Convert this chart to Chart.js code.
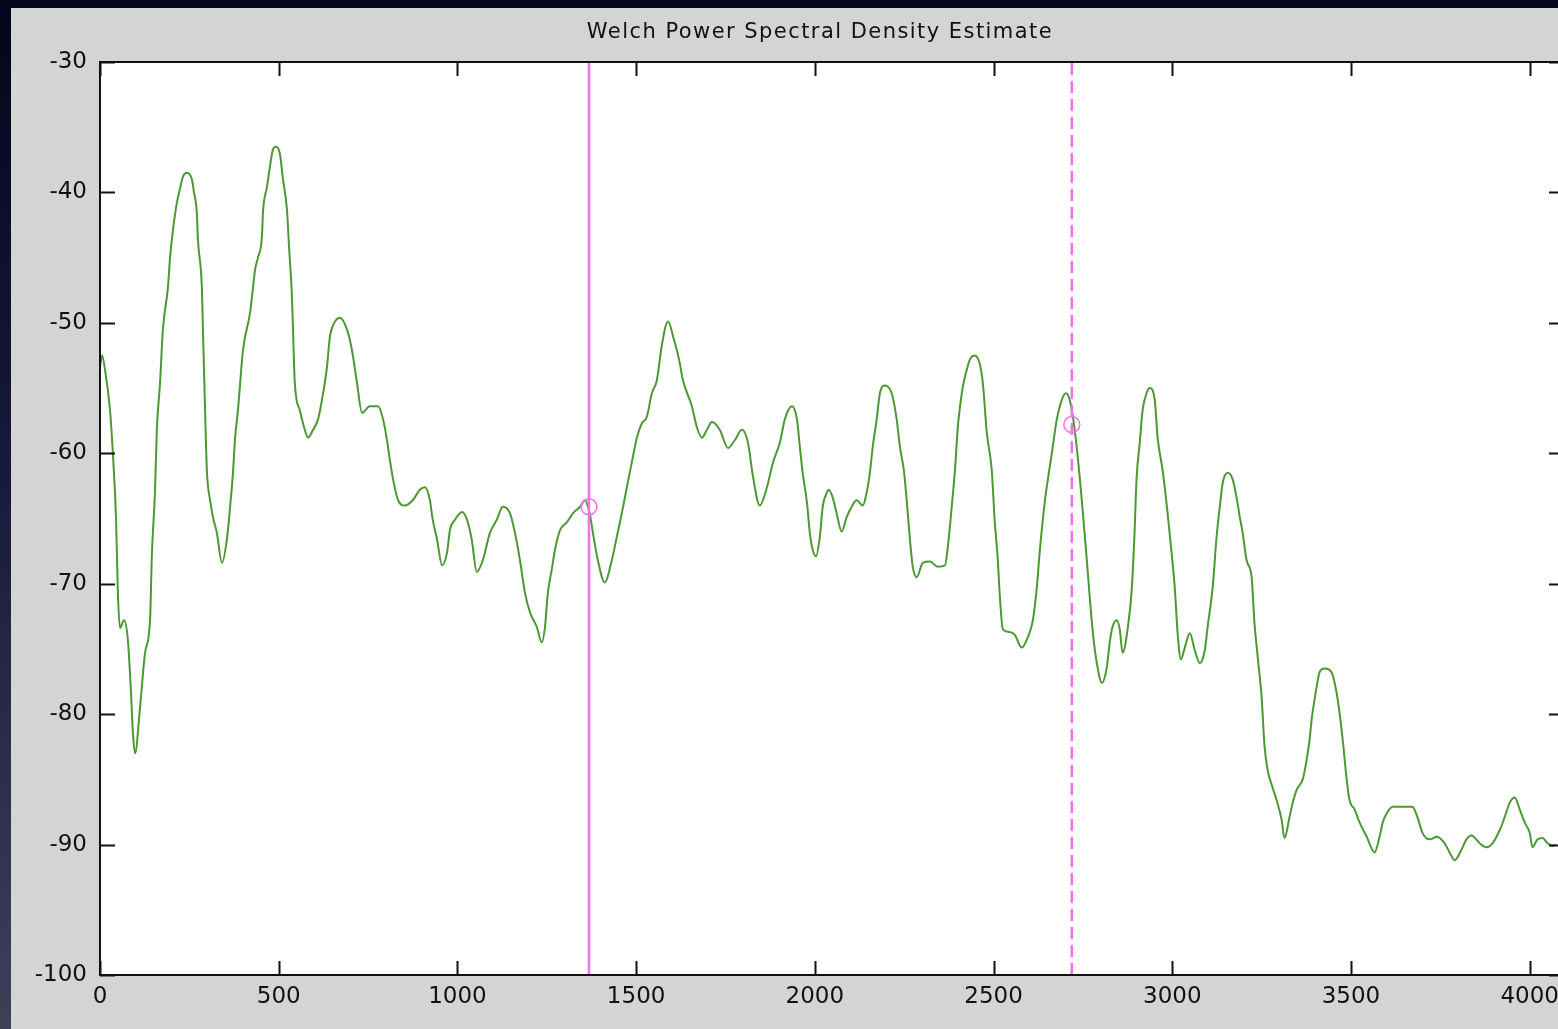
<!DOCTYPE html>
<html>
<head>
<meta charset="utf-8">
<title>Welch Power Spectral Density Estimate</title>
<script src="https://cdn.jsdelivr.net/npm/chart.js@4/dist/chart.umd.min.js"></script>
<style>
  html, body { margin: 0; padding: 0; width: 1558px; height: 1029px; overflow: hidden; }
  body { background: linear-gradient(180deg, #03051a 0%, #151a3a 45%, #3f3f58 100%); position: relative; }
  #panel { position: absolute; left: 11px; top: 8px; width: 1580px; height: 1021px; background: #d4d4d4; }
  #psd { display: block; }
</style>
</head>
<body>
<div id="panel"><canvas id="psd" width="1580" height="1021"></canvas></div>
<script>
// frequency (Hz) and PSD (dB/Hz)
const freqHz = [
  0, 6, 14, 28, 36, 45, 50, 56, 67, 78, 87, 92, 98, 112, 126, 140, 145, 154, 159, 168,
  176, 190, 196, 204, 215, 224, 232, 243, 257, 263, 271, 274, 285, 288, 294, 299, 308, 316, 327, 341,
  355, 364, 372, 378, 386, 400, 420, 428, 434, 442, 453, 456, 467, 475, 484, 492, 503, 512, 523, 529,
  537, 540, 545, 559, 573, 582, 596, 610, 621, 635, 643, 652, 671, 691, 705, 719, 733, 755, 778, 792,
  803, 811, 820, 834, 853, 875, 895, 909, 923, 931, 943, 957, 971, 979, 993, 1013, 1027, 1040, 1054, 1071,
  1091, 1110, 1127, 1147, 1161, 1175, 1189, 1203, 1222, 1236, 1245, 1253, 1264, 1273, 1287, 1306, 1323, 1343, 1357, 1370,
  1379, 1393, 1412, 1432, 1446, 1460, 1474, 1488, 1502, 1516, 1530, 1544, 1558, 1572, 1589, 1606, 1620, 1631, 1656, 1670,
  1684, 1698, 1712, 1734, 1757, 1776, 1796, 1813, 1827, 1846, 1866, 1883, 1902, 1916, 1936, 1950, 1958, 1966, 1978, 1986,
  1994, 2003, 2014, 2022, 2034, 2039, 2050, 2061, 2075, 2089, 2103, 2117, 2134, 2145, 2154, 2162, 2173, 2182, 2196, 2215,
  2229, 2238, 2249, 2257, 2266, 2274, 2285, 2302, 2322, 2344, 2364, 2372, 2383, 2392, 2400, 2405, 2414, 2425, 2434, 2447,
  2461, 2470, 2481, 2495, 2503, 2512, 2517, 2526, 2545, 2559, 2579, 2596, 2610, 2621, 2629, 2643, 2652, 2663, 2677, 2691,
  2702, 2713, 2727, 2741, 2750, 2761, 2769, 2778, 2789, 2803, 2817, 2825, 2833, 2845, 2853, 2861, 2875, 2887, 2895, 2900,
  2909, 2917, 2928, 2937, 2951, 2959, 2973, 2987, 2998, 3007, 3015, 3024, 3035, 3049, 3063, 3077, 3091, 3099, 3113, 3124,
  3133, 3141, 3155, 3169, 3180, 3189, 3197, 3208, 3222, 3230, 3239, 3250, 3258, 3267, 3278, 3292, 3306, 3314, 3328, 3337,
  3348, 3365, 3376, 3384, 3390, 3398, 3404, 3412, 3426, 3446, 3460, 3468, 3477, 3488, 3496, 3510, 3524, 3544, 3566, 3580,
  3589, 3600, 3617, 3672, 3686, 3700, 3720, 3740, 3762, 3776, 3790, 3809, 3823, 3837, 3860, 3879, 3896, 3916, 3930, 3944,
  3958, 3972, 3986, 4000, 4008, 4022, 4036, 4050, 4064, 4072
];
const psdDb = [
  -53.4, -52.5, -53.6, -56.7, -60.0, -65.1, -70.7, -73.4, -72.8, -74.3, -78.5, -81.4, -83.0, -79.5, -75.3, -72.8, -67.9, -62.8, -58.2, -54.6,
  -50.5, -47.3, -45.0, -42.9, -40.8, -39.7, -38.8, -38.5, -39.0, -40.0, -41.6, -43.6, -47.3, -50.5, -56.7, -61.3, -63.6, -64.9, -66.1, -68.4,
  -66.6, -64.1, -61.5, -58.8, -56.7, -52.1, -49.2, -47.3, -45.9, -45.0, -43.4, -41.5, -39.6, -38.1, -36.7, -36.5, -37.0, -39.0, -41.3, -44.2,
  -48.0, -50.5, -54.6, -56.7, -58.2, -58.8, -58.2, -57.4, -55.9, -53.4, -51.1, -50.2, -49.6, -50.5, -52.1, -54.6, -56.9, -56.4, -56.4, -57.4,
  -59.0, -60.5, -62.0, -63.6, -64.0, -63.6, -62.8, -62.6, -63.6, -65.1, -66.6, -68.6, -67.6, -65.9, -65.1, -64.5, -65.1, -66.6, -69.1, -68.2,
  -66.1, -65.1, -64.1, -64.6, -66.1, -68.2, -70.7, -72.2, -73.3, -74.5, -73.3, -70.7, -68.9, -67.4, -65.9, -65.3, -64.6, -64.1, -63.6, -64.6,
  -66.1, -68.2, -69.9, -68.2, -66.4, -64.6, -62.6, -60.7, -58.8, -57.7, -57.2, -55.4, -54.4, -51.7, -49.9, -51.3, -52.8, -54.4, -56.4, -58.0,
  -58.8, -58.2, -57.6, -58.2, -59.6, -59.0, -58.2, -59.2, -61.8, -64.0, -62.6, -60.7, -59.2, -57.4, -56.4, -57.4, -59.5, -61.5, -63.8, -66.1,
  -67.4, -67.9, -66.4, -64.1, -63.0, -62.8, -63.4, -64.6, -66.0, -64.9, -64.1, -63.6, -64.0, -63.0, -61.5, -59.5, -57.4, -55.4, -54.8, -55.4,
  -57.4, -59.5, -61.3, -63.6, -66.6, -68.7, -69.5, -68.4, -68.3, -68.7, -68.6, -67.2, -64.1, -61.3, -58.0, -56.7, -54.9, -53.6, -52.8, -52.5,
  -53.1, -54.6, -58.4, -61.3, -65.1, -68.2, -70.7, -73.5, -73.7, -73.9, -74.9, -74.1, -72.8, -70.3, -67.6, -63.8, -62.0, -60.0, -57.4, -55.9,
  -55.4, -55.9, -58.2, -61.8, -64.6, -68.2, -71.0, -73.8, -76.1, -77.6, -76.4, -74.5, -73.3, -72.8, -73.5, -75.3, -73.5, -70.3, -65.7, -62.0,
  -59.2, -56.7, -55.4, -55.0, -55.9, -58.8, -61.3, -64.6, -67.6, -70.3, -73.8, -75.8, -74.9, -73.8, -75.1, -76.1, -75.1, -73.3, -70.3, -66.4,
  -64.1, -62.3, -61.5, -62.0, -63.4, -64.9, -66.1, -68.2, -69.5, -73.0, -75.6, -78.7, -82.4, -84.3, -85.4, -86.6, -88.1, -89.5, -87.9, -86.8,
  -85.8, -85.0, -83.5, -82.0, -80.4, -78.9, -77.9, -76.8, -76.5, -76.8, -78.4, -79.9, -82.0, -85.0, -86.6, -87.3, -88.3, -89.4, -90.6, -89.4,
  -88.3, -87.6, -87.1, -87.1, -87.9, -89.1, -89.6, -89.4, -89.9, -90.6, -91.2, -90.4, -89.6, -89.3, -89.9, -90.2, -89.9, -88.9, -87.9, -86.8,
  -86.4, -87.3, -88.3, -89.1, -90.2, -89.6, -89.5, -89.9, -90.1, -90.0
];

// data cursors (solid and dashed)
const cursorHz = [1368, 2719];
const cursorDb = [-64.1, -57.8];

const xLimits = [0, 4096];
const yLimits = [-100, -30];
const xTicks = [0, 500, 1000, 1500, 2000, 2500, 3000, 3500, 4000];
const yTicks = [-100, -90, -80, -70, -60, -50, -40, -30];
const titleText = "Welch Power Spectral Density Estimate";

const green = "rgb(76,153,51)";
const magenta = "rgb(240,112,240)";
const tickFont = { family: "'DejaVu Sans', sans-serif", size: 23 };

const curve = freqHz.map((f, i) => ({ x: f, y: psdDb[i] }));

// white plot background, then frame + inward ticks on all four sides (MATLAB look)
const axesFrame = {
  id: "axesFrame",
  beforeDatasetsDraw(chart) {
    const a = chart.chartArea;
    const ctx = chart.ctx;
    ctx.save();
    ctx.fillStyle = "#ffffff";
    ctx.fillRect(a.left, a.top, a.right - a.left, a.bottom - a.top);
    ctx.restore();
  },
  afterDatasetsDraw(chart) {
    const a = chart.chartArea;
    const ctx = chart.ctx;
    const xs = chart.scales.x;
    const ys = chart.scales.y;
    ctx.save();
    ctx.strokeStyle = "#111";
    ctx.lineWidth = 2;
    ctx.strokeRect(a.left, a.top, a.right - a.left, a.bottom - a.top);
    ctx.beginPath();
    xs.ticks.forEach((t) => {
      const px = Math.round(xs.getPixelForValue(t.value)) + 0.5;
      ctx.moveTo(px, a.bottom);
      ctx.lineTo(px, a.bottom - 14);
      ctx.moveTo(px, a.top);
      ctx.lineTo(px, a.top + 14);
    });
    ys.ticks.forEach((t) => {
      const py = Math.round(ys.getPixelForValue(t.value)) + 0.5;
      ctx.moveTo(a.left, py);
      ctx.lineTo(a.left + 15, py);
      ctx.moveTo(a.right, py);
      ctx.lineTo(a.right - 15, py);
    });
    ctx.stroke();
    ctx.restore();
  },
  afterDraw(chart) {
    const ctx = chart.ctx;
    ctx.save();
    ctx.font = "21px 'DejaVu Sans', sans-serif";
    ctx.fillStyle = "#111";
    ctx.textBaseline = "alphabetic";
    ctx.textAlign = "center";
    const w = ctx.measureText(titleText).width;
    ctx.letterSpacing = Math.max(0, (465 - w) / (titleText.length - 1)).toFixed(2) + "px";
    ctx.fillText(titleText, 809, 30);
    ctx.restore();
  },
};

new Chart(document.getElementById("psd"), {
  type: "line",
  data: {
    datasets: [
      {
        label: "PSD",
        data: curve,
        borderColor: green,
        borderWidth: 2,
        pointRadius: 0,
        cubicInterpolationMode: "monotone",
        order: 3,
      },
      {
        label: "cursor 1",
        data: [{ x: cursorHz[0], y: yLimits[0] }, { x: cursorHz[0], y: yLimits[1] }],
        borderColor: magenta,
        borderWidth: 2.5,
        pointRadius: 0,
        order: 2,
      },
      {
        label: "cursor 2",
        data: [{ x: cursorHz[1], y: yLimits[0] }, { x: cursorHz[1], y: yLimits[1] }],
        borderColor: magenta,
        borderWidth: 2.5,
        borderDash: [12, 6],
        pointRadius: 0,
        order: 2,
      },
      {
        label: "markers",
        data: cursorHz.map((f, i) => ({ x: f, y: cursorDb[i] })),
        showLine: false,
        pointStyle: "circle",
        pointRadius: 8,
        pointBorderWidth: 1.5,
        pointBorderColor: magenta,
        pointBackgroundColor: "rgba(0,0,0,0)",
        order: 1,
      },
    ],
  },
  options: {
    responsive: false,
    animation: false,
    devicePixelRatio: 1,
    layout: { padding: { top: 54, right: 27, left: 0, bottom: 0 } },
    plugins: {
      legend: { display: false },
      title: { display: false },
      tooltip: { enabled: false },
    },
    scales: {
      x: {
        type: "linear",
        min: xLimits[0],
        max: xLimits[1],
        grid: { display: false, drawTicks: false },
        border: { display: false },
        ticks: {
          autoSkip: false,
          maxRotation: 0,
          padding: 8,
          color: "#111",
          font: tickFont,
          callback: (v) => String(v),
        },
        afterBuildTicks: (scale) => { scale.ticks = xTicks.map((v) => ({ value: v })); },
        afterFit: (scale) => { scale.height = 54; },
      },
      y: {
        type: "linear",
        min: yLimits[0],
        max: yLimits[1],
        grid: { display: false, drawTicks: false },
        border: { display: false },
        ticks: {
          autoSkip: false,
          padding: 13,
          color: "#111",
          font: tickFont,
          callback: (v) => String(v),
        },
        afterBuildTicks: (scale) => { scale.ticks = yTicks.map((v) => ({ value: v })); },
        afterFit: (scale) => { scale.width = 89; },
      },
    },
  },
  plugins: [axesFrame],
});
</script>
</body>
</html>
